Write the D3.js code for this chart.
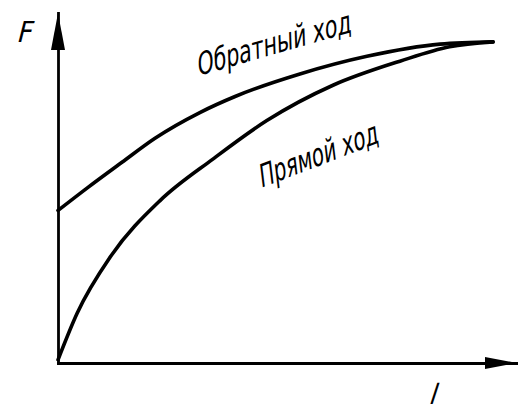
<!DOCTYPE html>
<html>
<head>
<meta charset="utf-8">
<script src="https://cdn.jsdelivr.net/npm/d3@7"></script>
<style>
  html, body { margin: 0; padding: 0; background: #fff; }
  svg { display: block; }
  .lbl { font-family: "DejaVu Sans Condensed", "DejaVu Sans", sans-serif; font-stretch: condensed; fill: #000; }
</style>
</head>
<body>
<svg id="chart" width="518" height="407"></svg>
<script>
// Path length l (arbitrary units) and force F for both strokes
const lForward = [0, 4.4, 12, 23.4, 35.6, 48, 63.2, 78.6, 90, 100];
const forward = [1, 15.5, 33, 50.5, 63.5, 75.5, 86.5, 94, 98.5, 100];

const lReverse = [0, 6.9, 14.7, 22.3, 32.6, 40.7, 55.6, 71, 87.8, 100];
const reverse = [47.5, 54.7, 62.5, 70, 78, 83, 90, 95.5, 99.3, 100];

const axisLabels = { y: "F", x: "l" };
const curveLabels = ["Обратный ход", "Прямой ход"];

const lMax = 105.5;
const fMax = 109;

const svg = d3.select("#chart");

const x = d3.scaleLinear().domain([0, lMax]).range([58, 517]);
const y = d3.scaleLinear().domain([0, fMax]).range([363, 13]);

// Axes without ticks
const gx = svg.append("g")
  .attr("transform", `translate(0,${y(0)})`)
  .call(d3.axisBottom(x).tickValues([]).tickSizeOuter(0));
const gy = svg.append("g")
  .attr("transform", `translate(${x(0)},0)`)
  .call(d3.axisLeft(y).tickValues([]).tickSizeOuter(0));
[gx, gy].forEach(g => g.select(".domain")
  .attr("stroke", "#000")
  .attr("stroke-width", 2.8)
  .attr("stroke-linecap", "square"));

// Arrowheads at the ends of the axes
const xEnd = x(lMax), yEnd = y(fMax);
svg.append("path")
  .attr("d", `M${xEnd},${y(0)} L${xEnd - 32},${y(0) - 6} L${xEnd - 32},${y(0) + 6} Z`)
  .attr("fill", "#000");
svg.append("path")
  .attr("d", `M${x(0)},${yEnd} L${x(0) - 7},${yEnd + 37} L${x(0) + 7},${yEnd + 37} Z`)
  .attr("fill", "#000");

// Curves
const line = d3.line()
  .x(d => x(d[0]))
  .y(d => y(d[1]))
  .curve(d3.curveMonotoneX);

const series = [
  lReverse.map((l, i) => [l, reverse[i]]),
  lForward.map((l, i) => [l, forward[i]])
];
svg.selectAll("path.curve")
  .data(series)
  .join("path")
  .attr("class", "curve")
  .attr("d", line)
  .attr("fill", "none")
  .attr("stroke", "#000")
  .attr("stroke-width", 3.6)
  .attr("stroke-linecap", "round");

// Axis labels
svg.append("text").attr("class", "lbl")
  .attr("transform", "translate(16,42) skewX(-14)")
  .attr("font-size", 29)
  .text(axisLabels.y);
svg.append("text").attr("class", "lbl")
  .attr("transform", "translate(428,404) skewX(-18)")
  .attr("font-size", 28)
  .text(axisLabels.x);

// Curve labels
svg.append("text").attr("class", "lbl")
  .attr("transform", "translate(198,76) rotate(-16) skewX(-14) scale(1,1.1)")
  .attr("font-size", 28)
  .attr("textLength", 160)
  .attr("lengthAdjust", "spacingAndGlyphs")
  .text(curveLabels[0]);
svg.append("text").attr("class", "lbl")
  .attr("transform", "translate(261,188) rotate(-21) skewX(-14) scale(1,1.1)")
  .attr("font-size", 28)
  .attr("textLength", 127)
  .attr("lengthAdjust", "spacingAndGlyphs")
  .text(curveLabels[1]);
</script>
</body>
</html>
